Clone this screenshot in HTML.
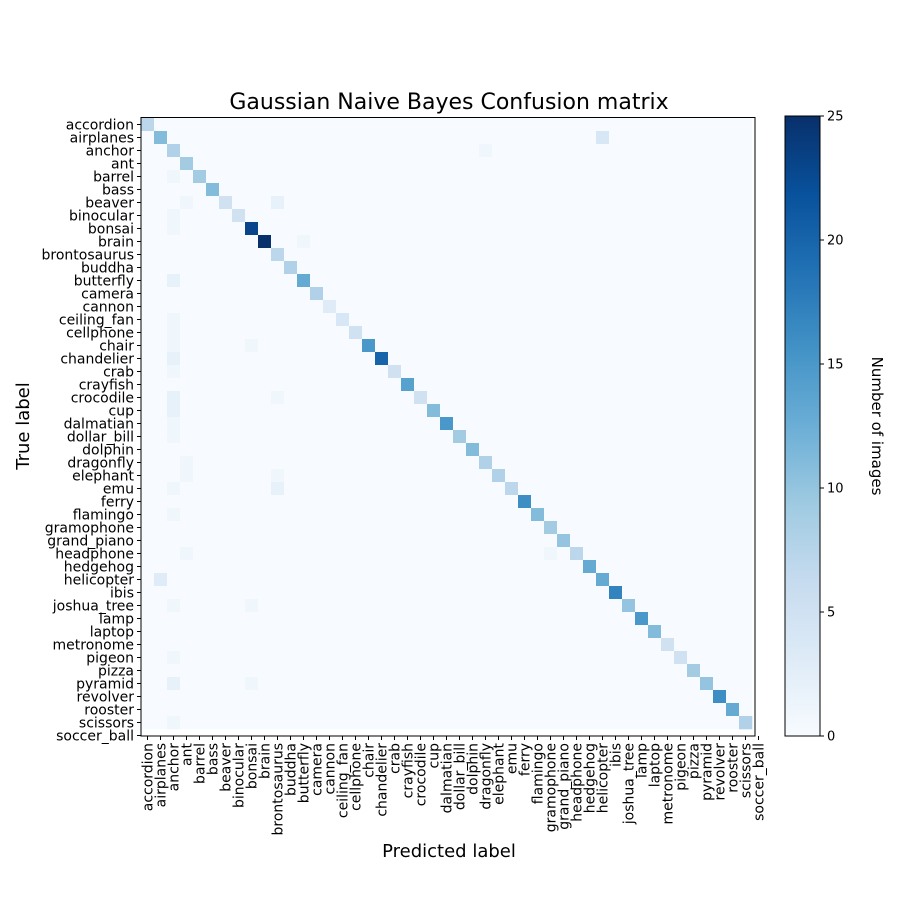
<!DOCTYPE html>
<html><head><meta charset="utf-8"><style>
html,body{margin:0;padding:0;background:#fff;}
svg{display:block;font-family:"DejaVu Sans","Liberation Sans",sans-serif;}
</style></head><body>
<svg id="chart" width="900" height="900" viewBox="0 0 900 900"></svg>
<script>
const classLabels=["accordion","airplanes","anchor","ant","barrel","bass","beaver","binocular","bonsai","brain","brontosaurus","buddha","butterfly","camera","cannon","ceiling_fan","cellphone","chair","chandelier","crab","crayfish","crocodile","cup","dalmatian","dollar_bill","dolphin","dragonfly","elephant","emu","ferry","flamingo","gramophone","grand_piano","headphone","hedgehog","helicopter","ibis","joshua_tree","lamp","laptop","metronome","pigeon","pizza","pyramid","revolver","rooster","scissors","soccer_ball"];
const diagonalValues=[7,11,8,9,9,11,5,5,23,25,7,8,13,8,3,4,5,15,20,5,14,5,11,15,9,11,8,8,7,16,11,9,10,7,13,13,17,10,15,11,5,5,9,10,16,13,8];
// off-diagonal entries: [trueRow, predictedCol, count]
const offDiagonal=[[1,35,4],[2,26,1],[4,2,1],[6,3,1],[6,10,2],[7,2,1],[8,2,1],[9,12,1],[12,2,2],[15,2,1],[16,2,1],[17,2,1],[17,8,1],[18,2,2],[19,2,1],[21,2,2],[21,10,1],[22,2,2],[23,2,1],[24,2,1],[26,3,1],[27,3,1],[27,10,1],[28,2,1],[28,10,2],[30,2,1],[33,3,1],[33,31,1],[35,1,3],[37,2,1],[37,8,1],[41,2,1],[43,2,2],[43,8,1],[46,2,1]];
const colorbarTicks=[0,5,10,15,20,25];
const vmax=25;

const NS="http://www.w3.org/2000/svg";
const svg=document.getElementById('chart');
function mk(tag,attrs,parent){const e=document.createElementNS(NS,tag);for(const k in attrs)e.setAttribute(k,attrs[k]);(parent||svg).appendChild(e);return e;}
const stops=["#f7fbff","#deebf7","#c6dbef","#9ecae1","#6baed6","#4292c6","#2171b5","#08519c","#08306b"];
function hex(h){return [1,3,5].map(i=>parseInt(h.substr(i,2),16));}
function cmap(v){let t=Math.max(0,Math.min(1,v/vmax))*8;let i=Math.min(7,Math.floor(t));let f=t-i;const a=hex(stops[i]),b=hex(stops[i+1]);return "rgb("+a.map((c,j)=>Math.round(c+(b[j]-c)*f)).join(",")+")";}

const L=141,T=117.5,R=755,B=736,cell=13;
const x0=141,y0=118;
function xPos(i){return x0+i*cell;}
function yPos(i){return y0+i*cell;}

const n=diagonalValues.length;
const M=[];for(let r=0;r<n;r++){M.push(new Array(n).fill(0));M[r][r]=diagonalValues[r];}
offDiagonal.forEach(d=>{M[d[0]][d[1]]=d[2];});
const g=mk('g',{});


for(let r=0;r<n;r++)for(let c=0;c<n;c++){
  const rc=mk('rect',{x:xPos(c),y:yPos(r),width:cell+0.3,height:cell+0.3,fill:cmap(M[r][c])},g);
  if(M[r][c]>0&&r===c){}
}
const frame=mk('rect',{x:L,y:T,width:R-L,height:B-T,fill:'none',stroke:'#000','stroke-width':1});



const yt=mk('g',{'font-size':14,fill:'#000'});


const xt=mk('g',{'font-size':14,fill:'#000'});


classLabels.forEach((lab,i)=>{
  const cy=yPos(i)+cell/2, cx=xPos(i)+cell/2;
  mk('line',{x1:L-4,x2:L,y1:cy,y2:cy,stroke:'#000'},yt);
  const ty=mk('text',{x:L-7,y:cy+5,'text-anchor':'end'},yt);ty.textContent=lab;
  
  
  mk('line',{x1:cx,x2:cx,y1:B,y2:B+4,stroke:'#000'},xt);
  const tx=mk('text',{x:0,y:0,'text-anchor':'end',transform:`translate(${cx+5},${B+7}) rotate(-90)`},xt);tx.textContent=lab;
  
  
});

const title=mk('text',{x:449,y:109,'text-anchor':'middle','font-size':22});title.textContent='Gaussian Naive Bayes Confusion matrix';


const xl=mk('text',{x:449,y:857,'text-anchor':'middle','font-size':18});xl.textContent='Predicted label';


const yl=mk('text',{x:0,y:0,'text-anchor':'middle','font-size':18,transform:'translate(29,426) rotate(-90)'});yl.textContent='True label';



const cbX=785,cbW=35,cbT=116,cbB=736;
const defs=mk('defs',{});
const grad=mk('linearGradient',{id:'cbg',x1:0,y1:1,x2:0,y2:0},defs);
stops.forEach((s,i)=>mk('stop',{offset:(i/8),'stop-color':s},grad));
const cb=mk('rect',{x:cbX,y:cbT,width:cbW,height:cbB-cbT,fill:'url(#cbg)',stroke:'#000','stroke-width':1});


const cbt=mk('g',{'font-size':13});


colorbarTicks.forEach(v=>{
  const y=cbB-(v/vmax)*(cbB-cbT);
  mk('line',{x1:cbX+cbW,x2:cbX+cbW+4,y1:y,y2:y,stroke:'#000'},cbt);
  const t=mk('text',{x:cbX+cbW+7,y:y+4.5},cbt);t.textContent=v;
  
  
});
const cl=mk('text',{x:0,y:0,'text-anchor':'middle','font-size':15,transform:'translate(872,426) rotate(90)'});cl.textContent='Number of images';


</script>
</body></html>
